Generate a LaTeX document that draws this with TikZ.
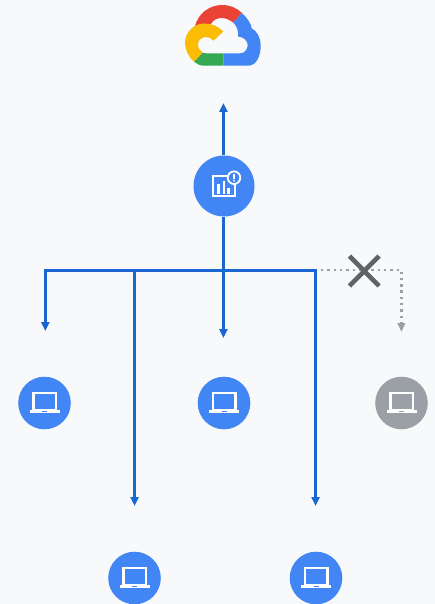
\documentclass[tikz,border=0pt]{standalone}
\usetikzlibrary{arrows.meta}
\definecolor{bgc}{HTML}{F8F9FB}
\definecolor{gblue}{HTML}{4285F4}
\definecolor{linkc}{HTML}{1A67D2}
\definecolor{gred}{HTML}{EA4335}
\definecolor{gyellow}{HTML}{FBBC04}
\definecolor{ggreen}{HTML}{34A853}
\definecolor{ggray}{HTML}{9AA0A6}
\definecolor{dgray}{HTML}{5F6368}
\tikzset{
  x=1pt,y=-1pt,
  hubnode/.style={circle,fill=gblue,draw=none,minimum size=61pt,inner sep=0pt},
  hostnode/.style={circle,fill=#1,draw=none,minimum size=52.6pt,inner sep=0pt},
  link/.style={draw=linkc,line width=3pt,-{Triangle[length=9pt,width=8pt]}},
  plainlink/.style={draw=linkc,line width=3pt},
  blocked/.style={draw=ggray,line width=2.4pt,dash pattern=on 2.4pt off 3.9pt,-{Triangle[length=9pt,width=7.5pt,fill=ggray]}},
  laptop/.pic={
    \fill[white] (-12.2,-11.2) rectangle (12.5,7.5);
    \fill[#1] (-10,-9) rectangle (10.3,5.5);
    \fill[white] (-14.6,7.2) rectangle (15.2,10.4);
    \fill[#1] (-2.2,7.6) rectangle (2.5,8.6);
  }
}
\begin{document}
\begin{tikzpicture}
\useasboundingbox (0,0) rectangle (435,604);
\fill[bgc] (0,0) rectangle (435,604);

% Cloud logo
\fill[gred] (195,26) .. controls (198,14) and (209,5) .. (222,5)
  .. controls (230,5) and (237,8) .. (242,13) -- (233.3,22.7)
  .. controls (230,20) and (226,18) .. (222,18)
  .. controls (217,18) and (213,20) .. (211,24) -- (205,30) -- cycle;
\fill[gblue] (242,13) .. controls (247,18) and (251,23) .. (251.7,28.3)
  .. controls (257,31) and (260.7,38) .. (260.7,45)
  .. controls (260.7,57) and (256,65.7) .. (248.3,65.7)
  -- (223.3,65.7) -- (223.3,53.3) -- (240,53.3)
  .. controls (244.5,53.3) and (247.7,49.5) .. (247.7,45)
  .. controls (247.7,40.5) and (243,36.7) .. (238.3,36.7)
  .. controls (238.3,31) and (237,26) .. (233.3,22.7) -- cycle;
\fill[ggreen] (194,61.7) -- (202.7,52.7) .. controls (204,53) and (205,53.3) .. (206,53.3)
  -- (223.3,53.3) -- (223.3,65.7) -- (204,65.7)
  .. controls (200,65.7) and (197,64) .. (194,61.7) -- cycle;
\fill[gyellow] (223.3,31.7) .. controls (219,26.5) and (212,23.5) .. (204.5,23.5)
  .. controls (194,23.5) and (185,32) .. (185,43)
  .. controls (185,50) and (189,57.5) .. (194,61.7)
  -- (202.7,52.7) .. controls (200,51) and (198,48) .. (198,44.5)
  .. controls (198,40.5) and (201.5,37) .. (206,37)
  .. controls (209,37) and (211.5,38.5) .. (213.3,40.7) -- cycle;

% Nodes
\node[hubnode] (mon) at (224,186) {};
\node[hostnode=gblue] (h1) at (44.5,403) {};
\node[hostnode=gblue] (h3) at (224,403) {};
\node[hostnode=ggray] (h5) at (401.5,403) {};
\node[hostnode=gblue] (h2) at (134.5,578) {};
\node[hostnode=gblue] (h4) at (316,578) {};

\pic at (h1) {laptop=gblue};
\pic at (h3) {laptop=gblue};
\pic at (h5) {laptop=ggray};
\pic at (h2) {laptop=gblue};
\pic at (h4) {laptop=gblue};

% Monitoring icon
\draw[white,line width=2pt] (212.7,176) rectangle (234.7,196);
\fill[white] (217.3,183.5) rectangle (220.3,194);
\fill[white] (222.5,180.5) rectangle (225.3,194);
\fill[white] (227.3,187.5) rectangle (230.3,194);
\filldraw[fill=gblue,draw=white,line width=1.8pt] (234,177.7) circle[radius=6.3pt];
\fill[white] (233.1,173.6) rectangle (234.9,178.8);
\fill[white] (234,180.7) circle[radius=1.05pt];

% Connector end points
\coordinate (up) at (223.4,103);
\coordinate (hub) at (223.4,270.5);
\coordinate (cL) at (45.3,270.5);
\coordinate (c2) at (134.6,270.5);
\coordinate (cR) at (315.5,270.5);
\coordinate (e1) at (45.3,331);
\coordinate (e2) at (134.6,506);
\coordinate (e3) at (223.4,338);
\coordinate (e4) at (315.5,506);
\coordinate (ds) at (321,270);
\coordinate (dc) at (401.4,270);
\coordinate (e5) at (401.4,332);
\coordinate (xa) at (349.5,256);
\coordinate (xb) at (379,286);
\coordinate (xc) at (379,256);
\coordinate (xd) at (349.5,286);

% Connectors
\draw[link] (up |- mon.north) -- (up);
\draw[plainlink] (up |- mon.south) -- (hub);
\draw[plainlink,line cap=rect] (cL) -- (cR);
\draw[link] (cL) -- (e1);
\draw[link] (c2) -- (e2);
\draw[link] (hub) -- (e3);
\draw[link] (cR) -- (e4);
\draw[blocked] (ds) -- (dc) -- (e5);
\draw[dgray,line width=4.6pt] (xa) -- (xb);
\draw[dgray,line width=4.6pt] (xc) -- (xd);
\end{tikzpicture}
\end{document}
